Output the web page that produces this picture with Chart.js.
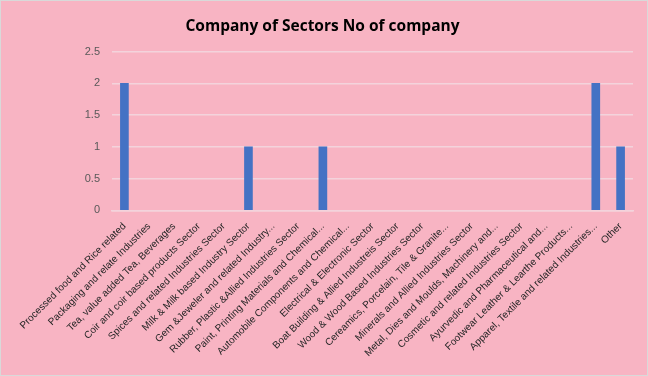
<!DOCTYPE html>
<html>
<head>
<meta charset="utf-8">
<script src="https://cdn.jsdelivr.net/npm/chart.js@4.4.1/dist/chart.umd.min.js"></script>
<style>
  html, body { margin: 0; padding: 0; background: #ffffff; }
  #wrap { position: absolute; left: 0; top: 0; width: 646px; height: 374px; border: 1px solid #d9d9d9; background: #f8b4c3; }
  canvas { display: block; }
</style>
</head>
<body>
<div id="wrap"><canvas id="c" width="646" height="374"></canvas></div>
<script>
const categories = [
  "Processed food and Rice related",
  "Packaging and relate Industries",
  "Tea, value added Tea, Beverages",
  "Coir and coir based products Sector",
  "Spices and related Industries Sector",
  "Milk & Milk based Industry Sector",
  "Gem &Jeweler and related Industry...",
  "Rubber, Plastic &Allied Industries Sector",
  "Paint, Printing Materials and Chemical...",
  "Automobile Components and Chemical...",
  "Electrical & Electronic Sector",
  "Boat Building & Allied Industreis Sector",
  "Wood & Wood Based Industries Sector",
  "Cereamics, Porcelain, Tile & Granite...",
  "Minerals and Allied Industries Sector",
  "Metal, Dies and Moulds, Machinery and...",
  "Cosmetic and related Industries Sector",
  "Ayurvedic and Pharmaceutical and...",
  "Footwear Leather & Learthe Products...",
  "Apparel, Textile and related Industries...",
  "Other"
];
const noOfCompany = [2, 0, 0, 0, 0, 1, 0, 0, 1, 0, 0, 0, 0, 0, 0, 0, 0, 0, 0, 2, 1];
const yTicks = [0, 0.5, 1, 1.5, 2, 2.5];

new Chart(document.getElementById('c'), {
  type: 'bar',
  data: {
    labels: categories,
    datasets: [{
      label: 'No of company',
      data: noOfCompany,
      backgroundColor: (ctx) => (ctx.raw ? '#4472c4' : 'rgba(0,0,0,0)'),
      barThickness: 8
    }]
  },
  options: {
    responsive: false,
    animation: false,
    layout: { padding: { left: 11, right: 14, top: 6, bottom: 14 } },
    plugins: {
      legend: { display: false },
      tooltip: { enabled: false },
      title: {
        display: true,
        text: 'Company of Sectors No of company',
        color: '#000000',
        font: { family: 'Open Sans', size: 15.5, weight: 'bold' },
        padding: { top: 10, bottom: 16 }
      }
    },
    scales: {
      x: {
        grid: { display: false },
        border: { display: true, color: '#f3d3dc', width: 1.5 },
        ticks: {
          autoSkip: false,
          maxRotation: 45,
          minRotation: 45,
          color: '#262626',
          font: { family: 'Liberation Sans', size: 10 },
          padding: 2
        }
      },
      y: {
        min: 0,
        max: 2.5,
        afterBuildTicks: (axis) => { axis.ticks = yTicks.map(v => ({ value: v })); },
        afterFit: (axis) => { axis.width = 100; },
        grid: { color: '#f3d3dc', drawTicks: false, lineWidth: 1.5 },
        border: { display: false },
        ticks: {
          color: '#595959',
          font: { family: 'Liberation Sans', size: 11 },
          padding: 12,
          callback: (v) => String(v)
        }
      }
    }
  }
});
</script>
</body>
</html>
